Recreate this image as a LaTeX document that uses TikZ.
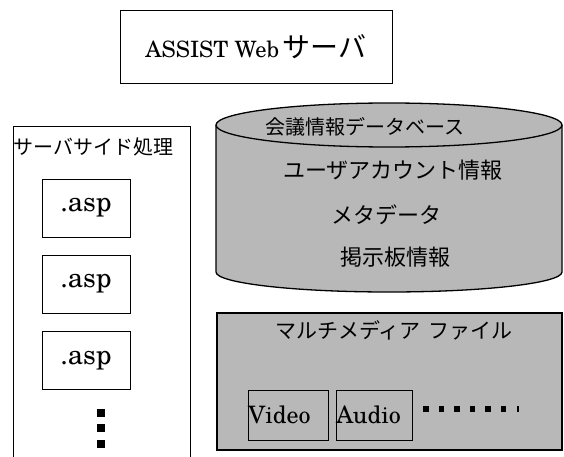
\documentclass[tikz,border=0pt]{standalone}
\usepackage{fontspec}
\setmainfont{texgyreschola-regular.otf}
\newfontfamily\jpfont{Noto Sans CJK JP}
\definecolor{dbgray}{gray}{0.72}
\tikzset{
  box/.style={draw=black, line width=0.9pt, inner sep=0pt},
  aspbox/.style={box, minimum width=88pt, minimum height=58pt, font=\fontsize{27.5}{30}\selectfont},
  mediabox/.style={box, minimum height=50pt, align=left, font=\fontsize{24}{27}\selectfont},
  jplabel/.style={inner sep=0pt, font=\jpfont\fontsize{22}{26}\selectfont},
  grayshape/.style={draw=black, line width=1.3pt, fill=dbgray},
  dotsq/.style={fill=black, minimum size=#1, inner sep=0pt},
}
\begin{document}
\begin{tikzpicture}[x=1pt,y=-1pt]
\useasboundingbox[fill=white] (0,0) rectangle (564,457);
% web server
\node[box, minimum width=272pt, minimum height=73pt, font=\fontsize{22.5}{26}\selectfont] (web) at (256,46.5)
  {ASSIST Web\,{\jpfont\fontsize{28}{30}\selectfont サーバ}};
% server side
\draw[color=black, line width=0.8pt] (13,457) -- (13,126) -- (190,126) -- (190,457);
\node[jplabel, anchor=west, font=\jpfont\fontsize{20}{24}\selectfont] (side) at (13,147) {サーバサイド処理};
\node[aspbox] (asp1) at (86,208) {.asp};
\node[aspbox] (asp2) at (86,284) {.asp};
\node[aspbox] (asp3) at (86,360.5) {.asp};
\foreach \y [count=\i] in {413,428,444}
  \node[dotsq=7.5pt] (vdot\i) at (101,\y) {};
% database
\draw[grayshape] (216,125) -- (216,272) arc[start angle=180, end angle=360, x radius=173, y radius=-20]
  -- (562,125);
\draw[grayshape] (389,125) ellipse[x radius=173, y radius=22];
\node[jplabel, font=\jpfont\fontsize{20}{24}\selectfont] (db) at (365,127) {会議情報データベース};
\node[jplabel] (user) at (393,170) {ユーザアカウント情報};
\node[jplabel] (meta) at (386,215) {メタデータ};
\node[jplabel] (bbs) at (395,257) {掲示板情報};
% multimedia
\draw[grayshape] (217,313) rectangle (562,450);
\node[jplabel, font=\jpfont\fontsize{21}{25}\selectfont] (mm) at (394,330) {マルチメディア\hspace{0.4em}ファイル};
\node[mediabox, text width=80pt] (video) at (288,415) {Video};
\node[mediabox, text width=76pt] (audio) at (374,415) {Audio};
\foreach \x [count=\i] in {0,...,5}
  \node[dotsq=5.5pt] (hdot\i) at (426+15.5*\x,409) {};
\node[fill=black, minimum width=2pt, minimum height=5.5pt, inner sep=0pt] (hend) at (518,409) {};
\end{tikzpicture}
\end{document}
